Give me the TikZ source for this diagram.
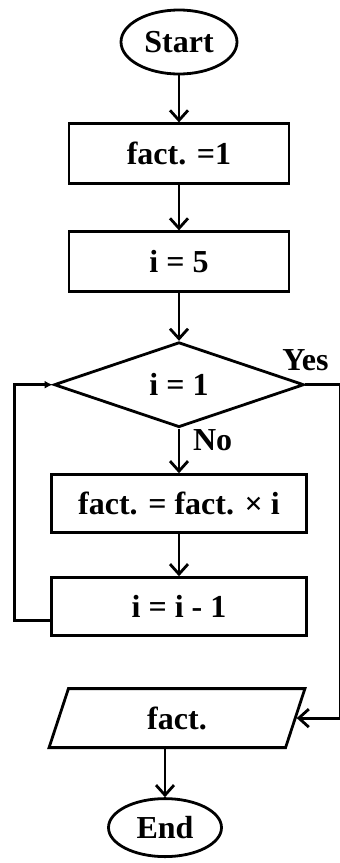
\documentclass[tikz,border=0pt]{standalone}
\usepackage{fontspec}
\setmainfont{Liberation Serif}
\usetikzlibrary{arrows.meta,positioning,shapes.geometric}

\begin{document}
\begin{tikzpicture}[
    font=\fontsize{16}{19}\selectfont\bfseries,
    line width=1.4pt,
    term/.style={draw,ellipse,minimum width=58pt,minimum height=32pt,inner sep=0pt},
    box/.style={draw,minimum width=110pt,minimum height=30pt,inner sep=0pt},
    wbox/.style={box,minimum width=127.5pt,minimum height=29pt},
    cond/.style={draw,diamond,minimum width=125pt,minimum height=42.5pt,inner sep=0pt},
    io/.style={draw,trapezium,trapezium left angle=77,trapezium right angle=103,trapezium stretches,minimum width=128pt,minimum height=29.5pt,inner sep=0pt},
    arr/.style={-{Straight Barb[length=5pt,width=9pt]}},
    back/.style={-{Latex[length=4pt,width=4pt]}}
]
\useasboundingbox (0,0) rectangle (169.5pt,-431.5pt);

\node[term] (start) at (89.5pt,-21pt) {Start};
\node[box,below=23.5pt of start] (init) {fact. =1};
\node[box,below=22.6pt of init] (seti) {i = 5};
\node[cond,below=23.8pt of seti] (test) {i = 1};
\node[wbox,below=22.3pt of test] (mult) {fact. = fact. × i};
\node[wbox,below=21.1pt of mult] (decr) {i = i - 1};
\node[io,below=25.1pt of decr,xshift=-1pt] (out) {fact.};
\node[term,below=24.1pt of out,xshift=-6pt,minimum width=56.5pt,minimum height=29pt] (stop) {End};

\node[above=3pt of test.east] (yes) {Yes};
\node[right=3pt of test.south,yshift=-6pt] (no) {No};

\draw[arr] (start) -- (init);
\draw[arr] (init) -- (seti);
\draw[arr] (seti) -- (test);
\draw[arr] (test) -- (mult);
\draw[arr] (mult) -- (decr);
\draw[back] ([yshift=-7pt]decr.west) -- ++(-18pt,0) |- (test.west);
\draw[arr] (test.east) -- ++(17.5pt,0) |- (out.east);
\draw[arr] (out.south -| stop.north) -- (stop.north);
\end{tikzpicture}
\end{document}
